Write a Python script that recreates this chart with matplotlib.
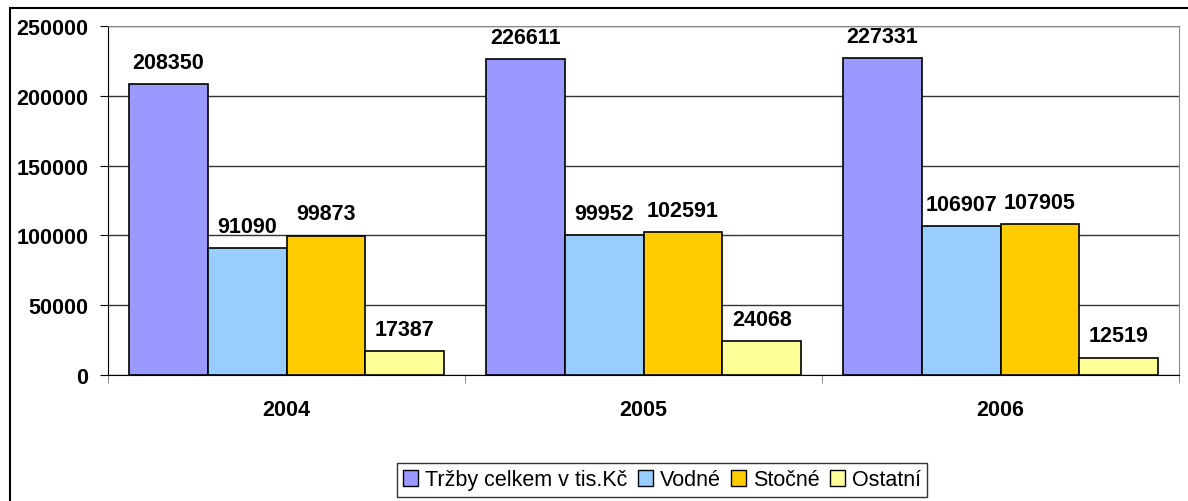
import numpy as np
import matplotlib.pyplot as plt
from matplotlib.patches import Patch, Rectangle

years = ['2004', '2005', '2006']
series_names = ['Tržby celkem v tis.Kč', 'Vodné', 'Stočné', 'Ostatní']
trzby = [208350, 226611, 227331]
vodne = [91090, 99952, 106907]
stocne = [99873, 102591, 107905]
ostatni = [17387, 24068, 12519]
colors = ['#9999FF', '#99CCFF', '#FFCC00', '#FFFF99']

plt.rcParams['font.family'] = ['Liberation Sans', 'DejaVu Sans']

fig = plt.figure(figsize=(11.88, 5.02), dpi=100)
fig.patches.append(Rectangle((10 / 1188, -0.1), 1.2, 1 - 9 / 502 + 0.1,
                             transform=fig.transFigure, fill=False,
                             edgecolor='black', linewidth=1.5))
ax = fig.add_axes([108 / 1188, 1 - 376 / 502, 1071 / 1188, 349 / 502])

x = np.arange(len(years))
width = 0.221
all_series = [trzby, vodne, stocne, ostatni]
for i, vals in enumerate(all_series):
    pos = x + (i - 1.5) * width
    ax.bar(pos, vals, width, color=colors[i], edgecolor='black', linewidth=1.2, zorder=3)
    for px, v in zip(pos, vals):
        ax.annotate(str(v), (px, v), xytext=(0, 8), textcoords='offset points',
                    ha='center', va='bottom', fontsize=15.5, fontweight='bold')

ax.set_xlim(-0.5, 2.5)
ax.set_ylim(0, 250000)
ax.set_yticks(np.arange(0, 250001, 50000))
ax.yaxis.grid(True, color='#333333', linewidth=1, zorder=0)
ax.set_xticks(x)
ax.set_xticklabels(years, fontsize=15.5, fontweight='bold')
ax.tick_params(axis='x', length=0, pad=17)
ax.set_xticks([-0.5, 0.5, 1.5, 2.5], minor=True)
ax.tick_params(axis='x', which='minor', length=6, color='#777777')
ax.tick_params(axis='y', length=6, labelsize=15.5, pad=8)
for lab in ax.get_yticklabels():
    lab.set_fontweight('bold')

ax.spines['top'].set_color('#888888')
ax.spines['right'].set_color('#888888')
ax.spines['left'].set_color('black')
ax.spines['bottom'].set_color('black')

handles = [Patch(facecolor=c, edgecolor='black', linewidth=1) for c in colors]
fig.legend(handles, series_names, loc='center', bbox_to_anchor=(662 / 1188, 1 - 481 / 502),
           ncol=4, frameon=True, fancybox=False, edgecolor='black', fontsize=15.5,
           handlelength=0.7, handleheight=0.7, handletextpad=0.3, columnspacing=0.5,
           borderpad=0.3)

fig.savefig('out.png', dpi=100)
